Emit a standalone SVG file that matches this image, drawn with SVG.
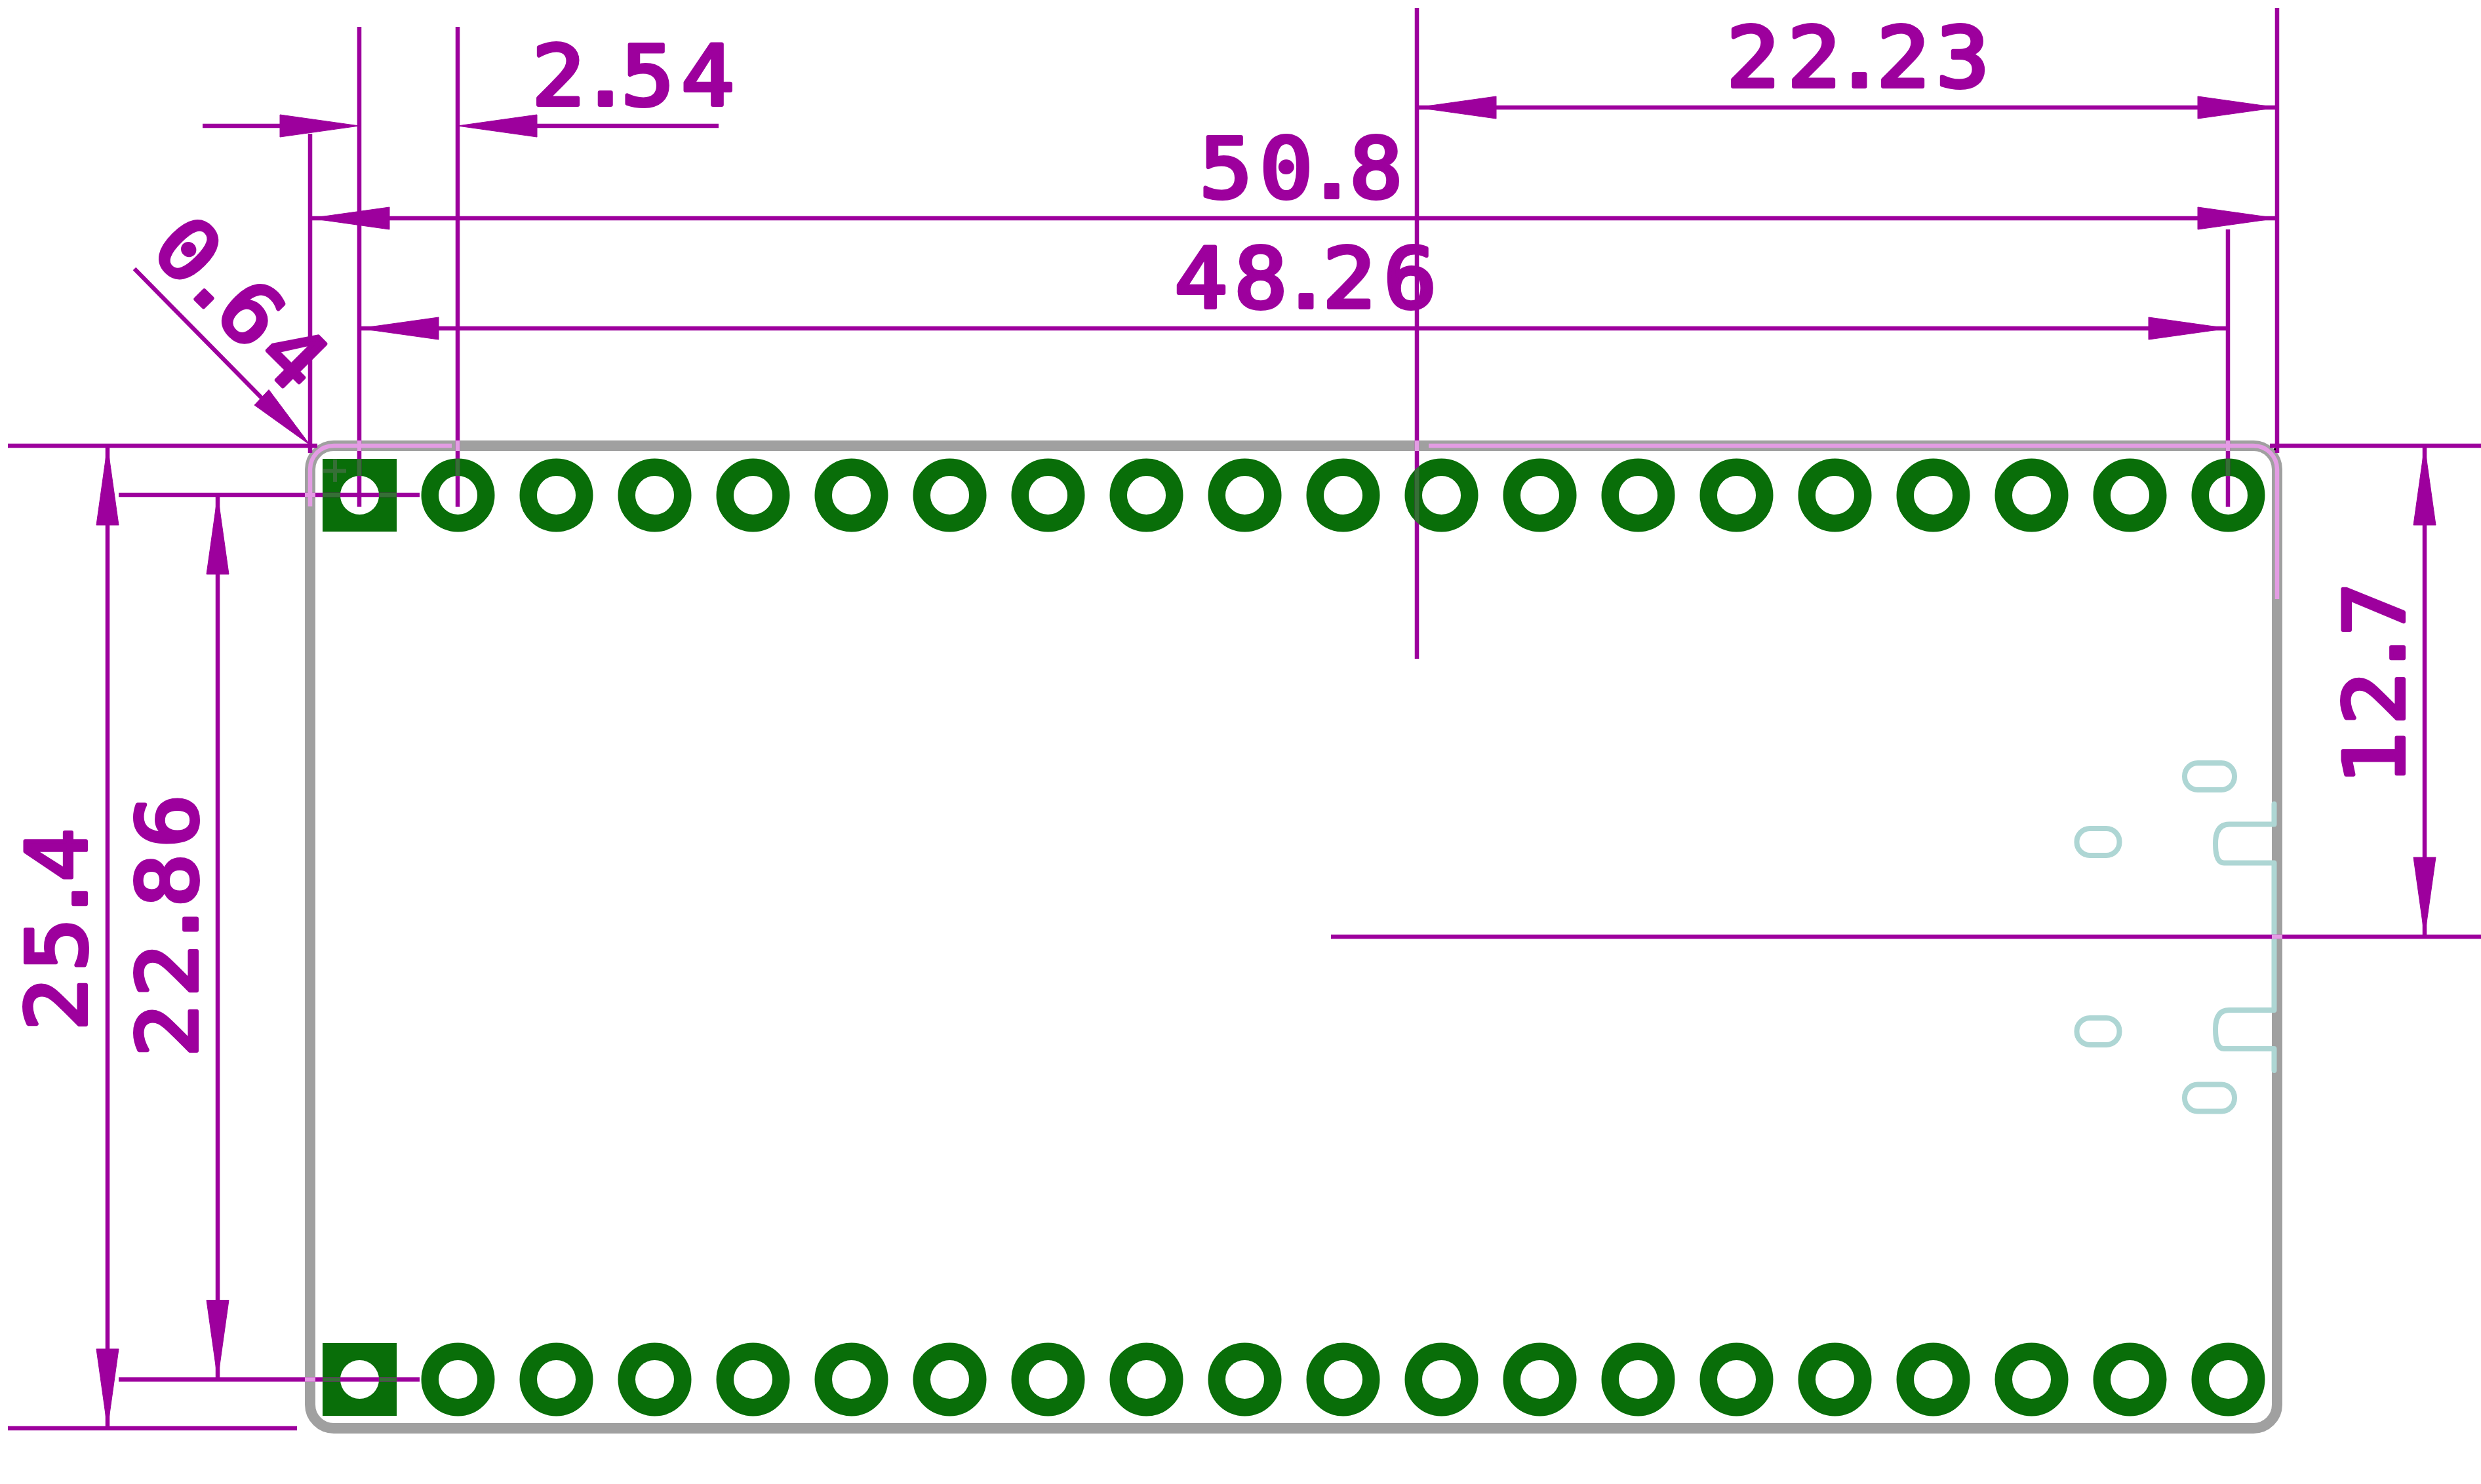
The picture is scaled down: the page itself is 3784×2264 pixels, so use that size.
<svg xmlns="http://www.w3.org/2000/svg" width="3784" height="2264" viewBox="0 0 3784 2264">
<style>
.bd{fill:none;stroke:#a0a0a0;stroke-width:16}
.ring{fill:none;stroke:#096e09;stroke-width:26.5}
.sq{fill:#096e09;fill-rule:evenodd}
.dim{fill:none;stroke:#9d009d;stroke-width:6.5}
.arr{fill:#9d009d;stroke:#9d009d;stroke-width:1;stroke-linejoin:round}
.pink{fill:none;stroke:#e39ce3;stroke-width:6.5}
.dark{fill:none;stroke:#366f36;stroke-width:6}
.darkf{fill:#366f36}
.teal{fill:none;stroke:#aed6d4;stroke-width:8;stroke-linecap:round;stroke-linejoin:round}
.t{font-family:"DejaVu Sans Mono","Liberation Mono",monospace;font-size:126px;fill:#9d009d;stroke:#9d009d;stroke-width:6;stroke-linejoin:round}
</style>
<defs>
<polygon id="a" points="0,0 -121,-17 -121,17"/>
<circle id="r" r="42.75"/>
<path id="s" d="M-56.5-55.5h113v111h-113zM-29.5 0a29.5 29.5 0 1 0 59 0a29.5 29.5 0 1 0-59 0z"/>
</defs>
<rect width="3784" height="2264" fill="#fff"/>
<g id="board">
<rect class="bd" x="473" y="680" width="3000" height="1499" rx="36" ry="36"/>
<path class="teal" d="M3468.5 1226.5V1257.5H3400Q3379 1257.5 3379 1287Q3379 1316.5 3392 1316.5H3468.5V1541H3400Q3379 1541 3379 1570Q3379 1600 3392 1600H3468.5V1633"/>
<rect class="teal" x="3332" y="1164" width="76" height="41" rx="20"/>
<rect class="teal" x="3167.5" y="1264" width="65" height="41" rx="20"/>
<rect class="teal" x="3167.5" y="1553" width="65" height="41" rx="20"/>
<rect class="teal" x="3332" y="1654.5" width="76" height="41" rx="20"/>
</g>
<g id="pads-top">
<g id="t1"><use href="#s" class="sq" x="548.5" y="755.5"/></g>
<g id="t2"><use href="#r" class="ring" x="698.5" y="755.5"/></g>
<g id="t3"><use href="#r" class="ring" x="848.5" y="755.5"/></g>
<g id="t4"><use href="#r" class="ring" x="998.5" y="755.5"/></g>
<g id="t5"><use href="#r" class="ring" x="1148.5" y="755.5"/></g>
<g id="t6"><use href="#r" class="ring" x="1298.5" y="755.5"/></g>
<g id="t7"><use href="#r" class="ring" x="1448.5" y="755.5"/></g>
<g id="t8"><use href="#r" class="ring" x="1598.5" y="755.5"/></g>
<g id="t9"><use href="#r" class="ring" x="1748.5" y="755.5"/></g>
<g id="t10"><use href="#r" class="ring" x="1898.5" y="755.5"/></g>
<g id="t11"><use href="#r" class="ring" x="2048.5" y="755.5"/></g>
<g id="t12"><use href="#r" class="ring" x="2198.5" y="755.5"/></g>
<g id="t13"><use href="#r" class="ring" x="2348.5" y="755.5"/></g>
<g id="t14"><use href="#r" class="ring" x="2498.5" y="755.5"/></g>
<g id="t15"><use href="#r" class="ring" x="2648.5" y="755.5"/></g>
<g id="t16"><use href="#r" class="ring" x="2798.5" y="755.5"/></g>
<g id="t17"><use href="#r" class="ring" x="2948.5" y="755.5"/></g>
<g id="t18"><use href="#r" class="ring" x="3098.5" y="755.5"/></g>
<g id="t19"><use href="#r" class="ring" x="3248.5" y="755.5"/></g>
<g id="t20"><use href="#r" class="ring" x="3398.5" y="755.5"/></g>
</g>
<g id="pads-bottom">
<g id="b1"><use href="#s" class="sq" x="548.5" y="2104.5"/></g>
<g id="b2"><use href="#r" class="ring" x="698.5" y="2104.5"/></g>
<g id="b3"><use href="#r" class="ring" x="848.5" y="2104.5"/></g>
<g id="b4"><use href="#r" class="ring" x="998.5" y="2104.5"/></g>
<g id="b5"><use href="#r" class="ring" x="1148.5" y="2104.5"/></g>
<g id="b6"><use href="#r" class="ring" x="1298.5" y="2104.5"/></g>
<g id="b7"><use href="#r" class="ring" x="1448.5" y="2104.5"/></g>
<g id="b8"><use href="#r" class="ring" x="1598.5" y="2104.5"/></g>
<g id="b9"><use href="#r" class="ring" x="1748.5" y="2104.5"/></g>
<g id="b10"><use href="#r" class="ring" x="1898.5" y="2104.5"/></g>
<g id="b11"><use href="#r" class="ring" x="2048.5" y="2104.5"/></g>
<g id="b12"><use href="#r" class="ring" x="2198.5" y="2104.5"/></g>
<g id="b13"><use href="#r" class="ring" x="2348.5" y="2104.5"/></g>
<g id="b14"><use href="#r" class="ring" x="2498.5" y="2104.5"/></g>
<g id="b15"><use href="#r" class="ring" x="2648.5" y="2104.5"/></g>
<g id="b16"><use href="#r" class="ring" x="2798.5" y="2104.5"/></g>
<g id="b17"><use href="#r" class="ring" x="2948.5" y="2104.5"/></g>
<g id="b18"><use href="#r" class="ring" x="3098.5" y="2104.5"/></g>
<g id="b19"><use href="#r" class="ring" x="3248.5" y="2104.5"/></g>
<g id="b20"><use href="#r" class="ring" x="3398.5" y="2104.5"/></g>
</g>
<g id="connectors">
<path class="dim" d="M548 41V773M698 41V773M473 204V691M2161 12V1005M3398 350V773M3473 12V691"/>
<path class="dim" d="M12 680H484M3462 680H3784M2030 1429H3784M12 2179H453M181 755H640M181 2104.5H640"/>
<path class="dim" d="M309 192H427M819 192H1096M473 333H3473M2161 164H3473M548 501H3398"/>
<path class="dim" d="M164 680V2179M332 755V2104.5M3698 680V1429"/>
<path class="dim" d="M205 410L399 607"/>
<use href="#a" class="arr" transform="translate(548,192)"/>
<use href="#a" class="arr" transform="translate(698,192) rotate(180)"/>
<use href="#a" class="arr" transform="translate(473,333) rotate(180)"/>
<use href="#a" class="arr" transform="translate(3473,333)"/>
<use href="#a" class="arr" transform="translate(2161,164) rotate(180)"/>
<use href="#a" class="arr" transform="translate(3473,164)"/>
<use href="#a" class="arr" transform="translate(548,501) rotate(180)"/>
<use href="#a" class="arr" transform="translate(3398,501)"/>
<use href="#a" class="arr" transform="translate(164,680) rotate(-90)"/>
<use href="#a" class="arr" transform="translate(164,2179) rotate(90)"/>
<use href="#a" class="arr" transform="translate(332,755) rotate(-90)"/>
<use href="#a" class="arr" transform="translate(332,2104.5) rotate(90)"/>
<use href="#a" class="arr" transform="translate(3698,680) rotate(-90)"/>
<use href="#a" class="arr" transform="translate(3698,1429) rotate(90)"/>
<polygon class="arr" points="473,679 410,594.6 388,618"/>
<path class="pink" d="M689 680H509A36 36 0 0 0 473 716V772.5M2179 680H3437A36 36 0 0 1 3473 716V914M548 672V688M698 672V688M2161 672V688M3398 672V688M465 755H481M465 2104.5H481M3465 1429H3481"/>
<path class="dark" d="M548 700V726M698 699.5V726M3398 699.5V726M492 755H519M578 755H605M492 2104.5H519M578 2104.5H605M493 718.5H528M511 701V735"/>
<polygon class="darkf" points="2158,716.5 2164,711.5 2164,799.5 2158,794.5"/>
<rect x="3468" y="684" width="3" height="3" fill="#000"/>
</g>
<g id="labels">
<text class="t" transform="translate(816,159.5) scale(1.07,1)" x="-4.5 62.3 122.6 208.5" y="0">2.54</text>
<text class="t" transform="translate(1834,301) scale(1.07,1)" x="-4.5 81.5 146.4 209.5" y="0">50.8</text>
<text class="t" transform="translate(1796,469) scale(1.07,1)" x="-4.5 80.5 145.4 206.7 293.6" y="0">48.26</text>
<text class="t" transform="translate(2638,132) scale(1.07,1)" x="-4.5 82.4 147.3 209.5 294.5" y="0">22.23</text>
<text class="t" transform="translate(133,1568) rotate(-90) scale(1.07,1)" x="-4.5 80.5 146.4 208.5" y="-2">25.4</text>
<text class="t" transform="translate(302,1608) rotate(-90) scale(1.07,1)" x="-4.5 81.4 147.3 209.5 294.5" y="-2">22.86</text>
<text class="t" transform="translate(3668,1193) rotate(-90) scale(1.07,1)" x="-4.5 81.4 146.4 208.5" y="-2">12.7</text>
<text class="t" transform="translate(228.6,389.4) rotate(45) scale(1.07,1)" x="-4.5 60.4 122.6 208.5" y="-2">0.64</text>
</g>
</svg>
